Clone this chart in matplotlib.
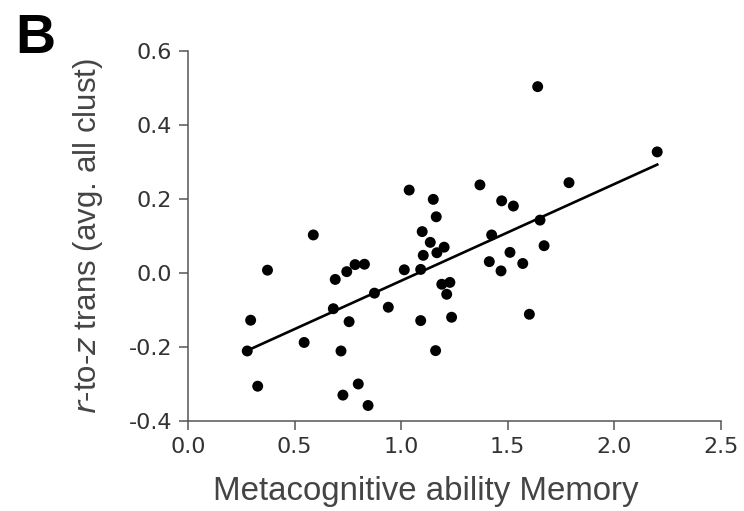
import numpy as np
import matplotlib
import matplotlib.pyplot as plt

matplotlib.use("Agg")

plt.rcParams["font.family"] = "DejaVu Sans"

# metacognitive ability (memory) per subject
meta_memory = [0.278, 0.294, 0.327, 0.373, 0.545, 0.588, 0.682, 0.691, 0.718, 0.727,
               0.745, 0.756, 0.784, 0.799, 0.828, 0.845, 0.875, 0.940, 1.015, 1.038,
               1.092, 1.092, 1.099, 1.104, 1.137, 1.151, 1.165, 1.162, 1.168, 1.191,
               1.202, 1.214, 1.229, 1.237, 1.370, 1.414, 1.425, 1.469, 1.472, 1.511,
               1.527, 1.571, 1.602, 1.641, 1.652, 1.671, 1.788, 2.202]

# r-to-z transformed connectivity, averaged over all clusters
rz_trans = [-0.210, -0.127, -0.305, 0.008, -0.187, 0.103, -0.096, -0.017, -0.210, -0.329,
            0.004, -0.131, 0.023, -0.299, 0.024, -0.357, -0.054, -0.092, 0.009, 0.224,
            0.010, -0.128, 0.112, 0.048, 0.083, 0.199, 0.152, -0.209, 0.055, -0.030,
            0.070, -0.057, -0.025, -0.119, 0.238, 0.031, 0.103, 0.006, 0.195, 0.056,
            0.181, 0.026, -0.111, 0.503, 0.143, 0.074, 0.244, 0.327]

x_ticks = [0.0, 0.5, 1.0, 1.5, 2.0, 2.5]
y_ticks = [-0.4, -0.2, 0.0, 0.2, 0.4, 0.6]

x = np.array(meta_memory)
y = np.array(rz_trans)

fig = plt.figure(figsize=(7.44, 5.11), dpi=100)
ax = fig.add_axes([0.2527, 0.1753, 0.7160, 0.7255])

ax.scatter(x, y, s=62, color="black", edgecolors="none", zorder=3)

# least squares fit
slope, intercept = np.polyfit(x, y, 1)
xx = np.array([x.min(), x.max()])
ax.plot(xx, slope * xx + intercept, color="black", linewidth=1.9, zorder=2)

ax.set_xlim(0, 2.5)
ax.set_ylim(-0.4, 0.6)
ax.set_xticks(x_ticks)
ax.set_yticks(y_ticks)
ax.set_xticklabels([f"{t:.1f}" for t in x_ticks])
ax.set_yticklabels([f"{t:.1f}" for t in y_ticks])

for s in ["top", "right"]:
    ax.spines[s].set_visible(False)
for s in ["left", "bottom"]:
    ax.spines[s].set_color("#555555")
    ax.spines[s].set_linewidth(1.1)

ax.tick_params(direction="out", length=6.5, width=1.1, color="#555555",
               labelsize=16, labelcolor="#333333", pad=5)

ax.set_xlabel("Metacognitive ability Memory", family="Liberation Sans",
              fontsize=23.8, color="#444444", va="top")
ax.xaxis.set_label_coords(0.447, -0.146)
ax.set_ylabel("$\\it{r}$-to-$\\it{z}$ trans (avg. all clust)", family="Liberation Sans",
              fontsize=22.5, color="#444444", va="center")
ax.yaxis.set_label_coords(-0.188, 0.50)

fig.text(0.02, 0.896, "B", fontsize=40, fontweight="bold", family="Liberation Sans",
         va="baseline", ha="left")

fig.savefig("out.png", dpi=100)
